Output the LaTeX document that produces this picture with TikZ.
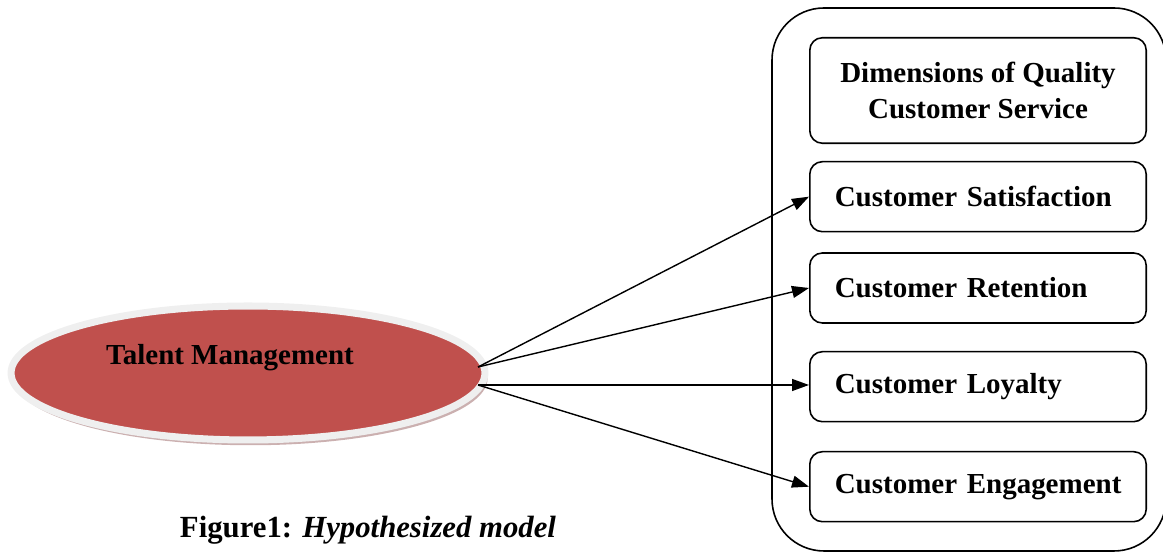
\documentclass[tikz,border=0pt]{standalone}
\usepackage{fontspec}
\setmainfont{Liberation Serif}
\usetikzlibrary{arrows.meta,shapes.geometric,shadows,calc}
\definecolor{tmred}{HTML}{C0504D}
\definecolor{tmrim}{HTML}{EFEFEF}
\definecolor{tmshade}{HTML}{A87C7C}
\begin{document}
\begin{tikzpicture}[x=0.02cm, y=0.02cm, line join=round,
		font=\fontsize{16.5}{20.5}\selectfont\bfseries,
		dimbox/.style={draw, line width=0.9pt, rounded corners=0.25cm, minimum width=6.73cm, minimum height=1.4cm, text width=6.03cm, inner xsep=0.35cm, align=left, execute at begin node={\hspace*{0.15cm}}},
		headbox/.style={draw, line width=0.9pt, rounded corners=0.25cm, minimum width=6.73cm, minimum height=2.11cm, align=center},
		tmellipse/.style={ellipse, fill=tmred, draw=tmrim, line width=4pt, minimum width=9.48cm, minimum height=2.68cm, drop shadow={shadow xshift=1.5pt, shadow yshift=-3pt, fill=tmshade, opacity=0.6}},
		link/.style={-{Triangle[length=0.34cm,width=0.24cm]}, line width=0.8pt}]
	\useasboundingbox (0,0) rectangle (1163,553);
	\draw[line width=0.9pt, rounded corners=1.04cm] (772,545) rectangle (1166,2);
	\node[tmellipse] (tm) at (248,180) {};
	\node (tmtext) at ($(tm.center)+(-18,15)$) {Talent Management};
	\node[headbox] (dqcs) at (978,462.5) {Dimensions of Quality\\Customer Service};
	\node[dimbox] (csat) at (978,356.3) {Customer Satisfaction};
	\node[dimbox] (cret) at (978,265) {Customer Retention};
	\node[dimbox] (cloy) at (978,166.3) {Customer Loyalty};
	\node[dimbox] (ceng) at (978,66.3) {Customer Engagement};
	\coordinate (su) at (478,186);
	\coordinate (sd) at (478,168);
	\draw[link] (su) -- (csat.west);
	\draw[link] (su) -- (cret.west);
	\draw[link] (sd) -- (sd -| cloy.west);
	\draw[link] (sd) -- (ceng.west);
	\node[anchor=base, font=\fontsize{17.5}{21}\selectfont\bfseries] (fig) at (368,15) {Figure1: \textit{Hypothesized model}};
\end{tikzpicture}
\end{document}
